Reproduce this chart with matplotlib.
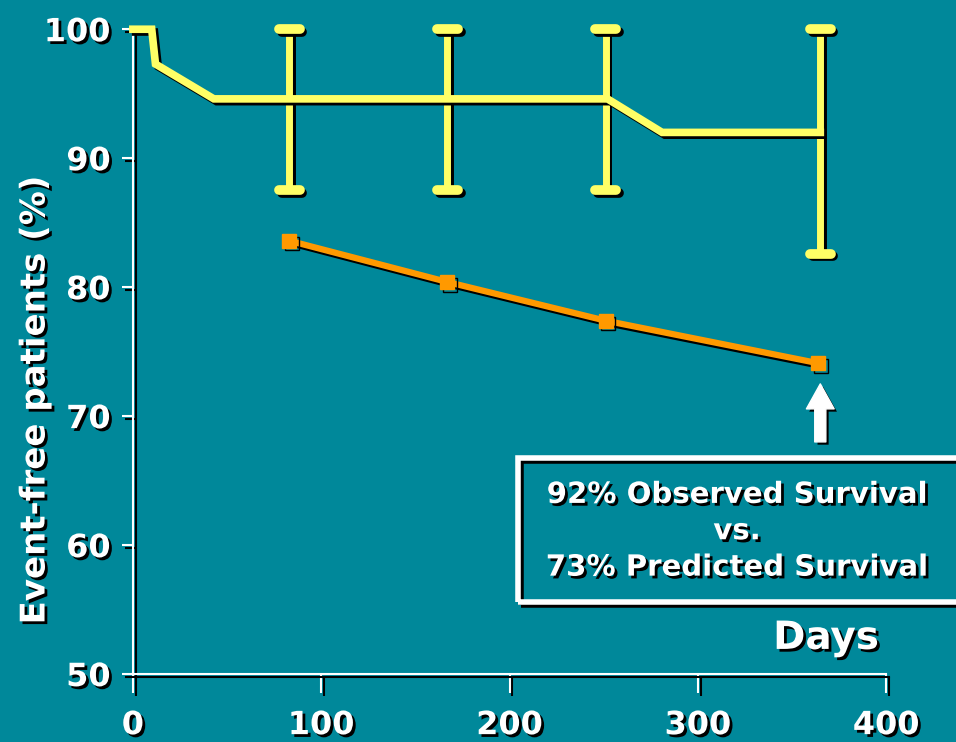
import matplotlib
matplotlib.use("Agg")
import matplotlib.pyplot as plt
import matplotlib.patheffects as pe
from matplotlib.patches import Rectangle

# observed event-free curve (Kaplan-Meier style)
obs_days = [0, 10, 12, 43, 252, 281, 365]
obs_pct = [100, 100, 97.3, 94.6, 94.6, 92.0, 92.0]

# confidence bars on the observed curve
bar_days = [83, 167, 251, 365]
bar_hi = [100, 100, 100, 100]
bar_lo = [87.5, 87.5, 87.5, 82.6]

# predicted survival
pred_days = [83, 167, 251, 364]
pred_pct = [83.6, 80.4, 77.4, 74.1]

x_ticks = [0, 100, 200, 300, 400]
y_ticks = [50, 60, 70, 80, 90, 100]

BG = "#00889A"
YELLOW = "#FFFF66"
ORANGE = "#FF9900"
FONT = "DejaVu Sans"

shadow = [pe.SimpleLineShadow(offset=(2, -2), shadow_color="black", alpha=1), pe.Normal()]
tshadow = [pe.withSimplePatchShadow(offset=(2, -2), shadow_rgbFace="black", alpha=1)]

fig = plt.figure(figsize=(9.56, 7.42), dpi=100, facecolor=BG)
ax = fig.add_axes([0.139, 0.0916, 0.788, 0.869])
ax.set_facecolor(BG)
ax.set_xlim(0, 400)
ax.set_ylim(50, 100)

# error bars
for x, lo, hi in zip(bar_days, bar_lo, bar_hi):
    ax.plot([x, x], [lo, hi], color=YELLOW, lw=5, clip_on=False, path_effects=shadow, zorder=3)
    for y in (lo, hi):
        ax.plot([x - 5.5, x + 5.5], [y, y], color=YELLOW, lw=7, solid_capstyle="round",
                clip_on=False, path_effects=shadow, zorder=3)

ax.plot(obs_days, obs_pct, color=YELLOW, lw=5.5, clip_on=False, path_effects=shadow,
        solid_joinstyle="miter", zorder=4)

ax.plot(pred_days, pred_pct, color=ORANGE, lw=4.5, marker="s", markersize=10,
        markeredgecolor=ORANGE, clip_on=False, path_effects=shadow, zorder=5)

# arrow pointing at the last predicted point
ax.annotate("", xy=(365, 72.5), xytext=(365, 68.0),
            arrowprops=dict(arrowstyle="simple,head_length=0.9,head_width=1.0,tail_width=0.4",
                            color="white", mutation_scale=20, shrinkA=0, shrinkB=0,
                            path_effects=[pe.withSimplePatchShadow(offset=(2, -2),
                                                                   shadow_rgbFace="black", alpha=1)]))

# spines and ticks
for s in ("top", "right"):
    ax.spines[s].set_visible(False)
for s in ("left", "bottom"):
    ax.spines[s].set_color("white")
    ax.spines[s].set_linewidth(1.5)
    ax.spines[s].set_path_effects(shadow)

ax.set_xticks(x_ticks)
ax.set_yticks(y_ticks)
ax.tick_params(axis="x", colors="white", length=14, width=1.5, pad=12)
ax.tick_params(axis="y", colors="white", length=8, width=1.5, pad=8)
for lab in ax.get_xticklabels() + ax.get_yticklabels():
    lab.set_fontfamily(FONT)
    lab.set_fontweight("bold")
    lab.set_fontsize(23)
    lab.set_color("white")
    lab.set_path_effects(tshadow)
for t in ax.xaxis.get_ticklines() + ax.yaxis.get_ticklines():
    t.set_path_effects(shadow)

ax.set_ylabel("Event-free patients (%)", color="white", fontsize=24.5, fontweight="bold",
              family=FONT, path_effects=tshadow)
ax.yaxis.set_label_coords(-0.108, 0.425)

ax.text(368, 52.8, "Days", color="white", fontsize=28, fontweight="bold", family=FONT,
        ha="center", va="center", path_effects=tshadow)

# annotation box
box = Rectangle((0.542, 0.189), 0.47, 0.194, transform=fig.transFigure, fill=False,
                edgecolor="white", lw=4, clip_on=False,
                path_effects=shadow)
fig.add_artist(box)
fig.text(0.771, 0.284, "92% Observed Survival\nvs.\n73% Predicted Survival", color="white",
         fontsize=21, fontweight="bold", family=FONT, ha="center", va="center",
         linespacing=1.38, path_effects=tshadow)

fig.savefig("out.png", dpi=100, facecolor=BG)
